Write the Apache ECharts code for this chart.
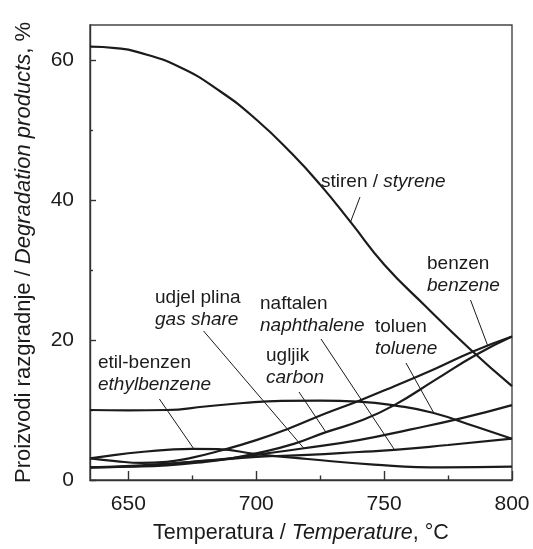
<!DOCTYPE html>
<html><head><meta charset="utf-8">
<script src="https://cdn.jsdelivr.net/npm/echarts@6/dist/echarts.min.js"></script>
<style>html,body{margin:0;padding:0;background:#fff}#c{width:533px;height:549px}</style>
</head><body><div id="c"></div>
<script>
// Axis ticks
const xTickLabels = [650, 700, 750, 800];
const xMinorTicks = [675, 725, 775];
const yTickLabels = [0, 20, 40, 60];
const yMinorTicks = [10, 30, 50];

// Series (temperature °C, product %)
const styreneT = [635, 645, 653, 670, 686, 700, 714, 725, 737, 750, 766, 783, 800];
const styreneV = [61.9, 61.7, 61.2, 59.0, 55.5, 51.5, 46.6, 42.2, 36.8, 30.8, 24.9, 18.9, 13.4];

const tolueneT = [635, 650, 665, 680, 695, 710, 725, 740, 755, 769, 786, 800];
const tolueneV = [10.0, 9.95, 10.0, 10.5, 11.0, 11.3, 11.35, 11.2, 10.6, 9.6, 7.6, 5.9];

const ethylbenzeneT = [635, 645, 655, 665, 675, 685, 700, 720, 746, 773, 800];
const ethylbenzeneV = [3.1, 3.6, 4.0, 4.3, 4.45, 4.4, 3.7, 3.0, 2.2, 1.8, 1.9];

const benzeneT = [635, 645, 655, 665, 675, 685, 700, 713, 727, 740, 754, 770, 785, 800];
const benzeneV = [3.1, 2.7, 2.45, 2.6, 3.2, 4.1, 5.7, 7.4, 9.5, 11.3, 13.4, 15.9, 18.4, 20.5];

const carbonT = [635, 650, 665, 680, 690, 700, 715, 727, 741, 754, 770, 786, 800];
const carbonV = [1.8, 1.9, 2.1, 2.6, 3.1, 3.8, 5.2, 6.8, 8.5, 10.7, 14.3, 17.9, 20.5];

const gasShareT = [635, 655, 675, 690, 700, 718, 740, 760, 780, 800];
const gasShareV = [1.8, 2.0, 2.6, 3.1, 3.6, 4.5, 5.7, 7.2, 8.8, 10.7];

const naphthaleneT = [635, 655, 675, 690, 700, 720, 740, 754, 775, 800];
const naphthaleneV = [1.8, 2.1, 2.6, 3.0, 3.3, 3.6, 4.0, 4.3, 5.0, 5.9];

const zip = (t, v) => t.map((x, i) => [x, v[i]]);

const INK = '#1b1b1b';
const FONT = '"Liberation Sans", Arial, Helvetica, sans-serif';

const chart = echarts.init(document.getElementById('c'), null, {renderer: 'canvas'});

const mkSeries = (name, t, v) => ({
  name, type: 'line', xAxisIndex: 0, yAxisIndex: 0,
  data: zip(t, v), showSymbol: false, symbol: 'none',
  smooth: 0.5,
  lineStyle: {color: INK, width: 2.2}, emphasis: {disabled: true}, silent: true
});

chart.setOption({
  animation: false,
  backgroundColor: '#fff',
  grid: {left: 90, right: 21, top: 25, bottom: 66, show: true, borderColor: '#444', borderWidth: 1.4, backgroundColor: 'transparent'},
  xAxis: [{
    type: 'value', min: 635, max: 800, position: 'bottom',
    axisLine: {show: true, lineStyle: {color: '#333', width: 1.4}},
    axisTick: {show: true, inside: true, length: 9, customValues: xTickLabels, lineStyle: {color: '#333', width: 1.4}},
    axisLabel: {customValues: xTickLabels, color: INK, fontSize: 21, fontFamily: FONT, margin: 14, showMinLabel: true, showMaxLabel: true},
    splitLine: {show: false},
    name: '{n|Temperatura / }{i|Temperature}{n|, °C}', nameLocation: 'middle', nameGap: 42,
    nameTextStyle: {rich: {n: {fontSize: 21.5, fontFamily: FONT, color: INK}, i: {fontSize: 21.5, fontFamily: FONT, fontStyle: 'italic', color: INK}}}
  }, {
    type: 'value', min: 635, max: 800, position: 'bottom', gridIndex: 0,
    axisLine: {show: false},
    axisTick: {show: true, inside: true, length: 4.5, customValues: xMinorTicks, lineStyle: {color: '#333', width: 1.4}},
    axisLabel: {show: false}, splitLine: {show: false}
  }],
  yAxis: [{
    type: 'value', min: 0, max: 65, position: 'left',
    axisLine: {show: true, lineStyle: {color: '#333', width: 1.4}},
    axisTick: {show: true, inside: true, length: 6, customValues: yTickLabels, lineStyle: {color: '#333', width: 1.4}},
    axisLabel: {customValues: yTickLabels, color: INK, fontSize: 21, fontFamily: FONT, margin: 16},
    splitLine: {show: false},
    name: '{n|Proizvodi razgradnje / }{i|Degradation products}{n|, %}', nameLocation: 'middle', nameGap: 55, nameRotate: 90,
    nameTextStyle: {rich: {n: {fontSize: 22, fontFamily: FONT, color: INK}, i: {fontSize: 22, fontFamily: FONT, fontStyle: 'italic', color: INK}}}
  }, {
    type: 'value', min: 0, max: 65, position: 'left', gridIndex: 0,
    axisLine: {show: false},
    axisTick: {show: true, inside: true, length: 3, customValues: yMinorTicks, lineStyle: {color: '#333', width: 1.4}},
    axisLabel: {show: false}, splitLine: {show: false}
  }],
  series: [
    mkSeries('stiren / styrene', styreneT, styreneV),
    mkSeries('toluen / toluene', tolueneT, tolueneV),
    mkSeries('etil-benzen / ethylbenzene', ethylbenzeneT, ethylbenzeneV),
    mkSeries('benzen / benzene', benzeneT, benzeneV),
    mkSeries('ugljik / carbon', carbonT, carbonV),
    mkSeries('udjel plina / gas share', gasShareT, gasShareV),
    mkSeries('naftalen / naphthalene', naphthaleneT, naphthaleneV)
  ]
});

// Annotation labels (pixel layout) and leader targets (data coords)
const labelLines = [
  {a: 'stiren / ', b: 'styrene', x: 321, y: 182, one: true, from: [360, 197], to: [736.8, 36.8]},
  {a: 'benzen', b: 'benzene', x: 427, y: 264, from: [470.5, 300], to: [790.5, 19.2]},
  {a: 'udjel plina', b: 'gas share', x: 155, y: 298, from: [203.6, 331], to: [718.8, 4.45]},
  {a: 'naftalen', b: 'naphthalene', x: 260, y: 304, from: [321, 339], to: [754.1, 4.3]},
  {a: 'toluen', b: 'toluene', x: 375, y: 327, from: [406, 363], to: [769.4, 9.6]},
  {a: 'ugljik', b: 'carbon', x: 266, y: 356, from: [299, 392], to: [727.3, 6.8]},
  {a: 'etil-benzen', b: 'ethylbenzene', x: 98, y: 363, from: [159.4, 399], to: [675.6, 4.45]}
];

const g = [];
const rich = {n: {fontSize: 19, fontFamily: FONT, fill: INK}, i: {fontSize: 19, fontFamily: FONT, fontStyle: 'italic', fill: INK}};
labelLines.forEach(l => {
  if (l.one) {
    g.push({type: 'text', x: l.x, y: l.y, style: {text: '{n|' + l.a + '}{i|' + l.b + '}', rich, verticalAlign: 'middle', align: 'left', fill: INK}, silent: true});
  } else {
    g.push({type: 'text', x: l.x, y: l.y, style: {text: l.a, font: '19px ' + FONT, fill: INK, verticalAlign: 'middle', align: 'left'}, silent: true});
    g.push({type: 'text', x: l.x, y: l.y + 22, style: {text: l.b, font: 'italic 19px ' + FONT, fill: INK, verticalAlign: 'middle', align: 'left'}, silent: true});
  }
  const p = chart.convertToPixel({xAxisIndex: 0, yAxisIndex: 0}, l.to);
  g.push({type: 'line', shape: {x1: l.from[0], y1: l.from[1], x2: p[0], y2: p[1]}, style: {stroke: INK, lineWidth: 1}, silent: true});
});
chart.setOption({graphic: g});
</script>
</body></html>
